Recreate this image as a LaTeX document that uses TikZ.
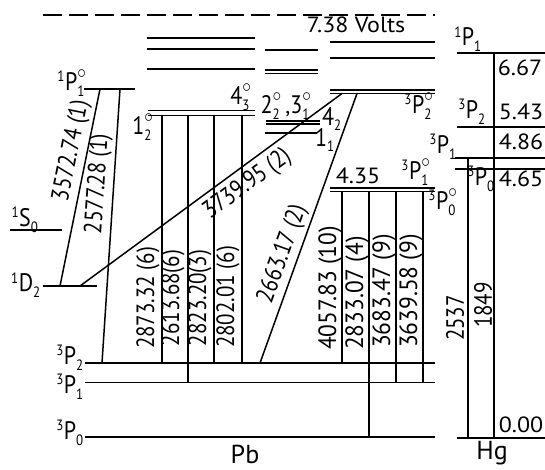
\documentclass[tikz,border=0pt]{standalone}
\usepackage{fontspec}
\setmainfont{PT Sans}
\usepackage{graphicx}
\newcommand\talltext[1]{\scalebox{1.05}[1.25]{#1}}
\newcommand\longtext[1]{\scalebox{1.17}[1.25]{#1}}
\newcommand\widetext[1]{\scalebox{1.2}[1.1]{#1}}
\newcommand\sx[1]{\mbox{\fontsize{13}{13}\selectfont #1}}
\newcommand\trm[4]{\scalebox{1}[1.15]{$^{\sx{#1}}\mbox{#2}^{\sx{#4}}_{\sx{#3}}$}}
\newcommand\nrm[3]{\scalebox{1}[1.15]{$\mbox{#1}^{\sx{#3}}_{\sx{#2}}$}}
\newcommand\dg{\fontsize{17}{17}\selectfont$\circ$}
\begin{document}
\begin{tikzpicture}[x=1pt,y=-1pt,
  lev/.style={line width=1.7pt},
  trn/.style={line width=1.5pt},
  lab/.style={inner sep=0pt, font=\fontsize{20}{22}\selectfont},
  lvl/.style={inner sep=0pt, font=\fontsize{22}{24}\selectfont},
  wl/.style={lab, rotate=90},
  sl/.style={lab, sloped, inner sep=3pt},
  big/.style={inner sep=0pt, font=\fontsize{26}{28}\selectfont}]
\useasboundingbox (0,0) rectangle (545,470);
\fill[white] (0,0) rectangle (545,470);

% series limit
\coordinate (lim-l) at (43,15); \coordinate (lim-r) at (435,15);
\draw[lev, dash pattern=on 19pt off 7pt] (lim-l) -- (lim-r);
\node[lab] (volts) at (356,25) {\widetext{7.38 Volts}};

% upper Pb levels
\foreach \y in {38,49,69} \draw[lev] (147,\y) -- (255,\y);
\foreach \y in {50,70,73.5} \draw[lev] (265,\y) -- (318,\y);
\foreach \y in {42,58} \draw[lev] (330,\y) -- (435,\y);
\foreach \y in {90,93.5} \draw[lev] (330,\y) -- (435,\y);
\draw[lev] (84,89) -- (135,89);
\foreach \y in {110.5,115.5} \draw[lev] (148,\y) -- (255,\y);
\foreach \y in {121,124} \draw[lev] (266,\y) -- (320,\y);
\draw[lev] (265,133) -- (317,133);
\foreach \y in {188,191.5} \draw[lev] (330,\y) -- (435,\y);
\draw[lev] (10,230) -- (62,230);
\draw[lev] (43,286) -- (97,286);
% Pb ground levels
\draw[lev] (85,363) -- (435,363);
\draw[lev] (85,382.5) -- (435,382.5);
\draw[lev] (85,437) -- (435,437);

% level labels Pb
\node[lvl] (l1p1o) at (72,83) {\trm{1}{P}{1}{\dg}};
\node[lvl] (l1s0) at (25,220) {\trm{1}{S}{0}{}};
\node[lvl] (l1d2) at (26,285) {\trm{1}{D}{2}{}};
\node[lvl] (l3p2) at (70,358) {\trm{3}{P}{2}{}};
\node[lvl] (l3p1) at (70,387) {\trm{3}{P}{1}{}};
\node[lvl] (l3p0) at (70,433) {\trm{3}{P}{0}{}};
\node[lvl] (l12) at (143,127) {\nrm{1}{2}{\dg}};
\node[lvl] (l43) at (241,97) {\nrm{4}{3}{\dg}};
\node[lvl] (l2231) at (286,106) {\nrm{2}{2}{\dg}\,,\nrm{3}{1}{\dg}};
\node[lvl] (l42) at (332,119) {\nrm{4}{2}{}};
\node[lvl] (l11) at (325,140) {\nrm{1}{1}{}};
\node[lvl] (l3p2o) at (419,106) {\trm{3}{P}{2}{\dg}};
\node[lab] (l435) at (358,176) {\widetext{4.35}};
\node[lvl] (l3p1o) at (416,172) {\trm{3}{P}{1}{\dg}};
\node[lvl] (l3p0o) at (443,202) {\trm{3}{P}{0}{\dg}};

% slanted transitions
\coordinate (p1a) at (100,89); \coordinate (d2a) at (60,286);
\draw[trn] (d2a) -- node[sl, above, pos=0.67] (t1) {\talltext{3572.74 (1)}} (p1a);
\coordinate (p1b) at (120,89); \coordinate (g2a) at (102,363);
\draw[trn] (g2a) -- node[sl, above, pos=0.65] (t2) {\talltext{2577.28 (1)}} (p1b);
\coordinate (d2b) at (80,286); \coordinate (p2oa) at (342,93.5);
\draw[trn] (d2b) -- node[sl, below, pos=0.6, inner sep=5pt] (t3) {\talltext{3739.95 (2)}} (p2oa);
\coordinate (p2ob) at (357,93.5); \coordinate (g2b) at (260,363);
\draw[trn] (g2b) -- node[sl, above, pos=0.385] (t4) {\talltext{2663.17 (2)}} (p2ob);

% vertical transitions from 1_2 / 4_3
\foreach \x/\yb in {162/363,188/382.5,214/363,242/363} {
  \coordinate (u\x) at (\x,115.5); \coordinate (d\x) at (\x,\yb);
  \draw[trn] (u\x) -- (d\x);
}
\node[wl] (w1) at (148,298) {\talltext{2873.32 (6)}};
\node[wl] (w2) at (173,298) {\talltext{2613.68(6)}};
\node[wl] (w3) at (200,298) {\talltext{2823.20(3)}};
\node[wl] (w4) at (228,297) {\talltext{2802.01 (6)}};

% vertical transitions from 4.35
\foreach \x/\yb in {342/363,369/437,396/382.5,423/382.5} {
  \coordinate (v\x) at (\x,191.5); \coordinate (e\x) at (\x,\yb);
  \draw[trn] (v\x) -- (e\x);
}
\node[wl] (w5) at (330,288) {\longtext{4057.83 (10)}};
\node[wl] (w6) at (357,293) {\longtext{2833.07 (4)}};
\node[wl] (w7) at (384,291) {\longtext{3683.47 (9)}};
\node[wl] (w8) at (411,291) {\longtext{3639.58 (9)}};

\node[big] (pb) at (245,454) {Pb};

% Hg
\draw[lev] (457,53) -- (545,53);
\draw[lev] (457,127) -- (545,127);
\draw[lev] (455,158) -- (545,158);
\draw[lev] (455,169) -- (545,169);
\draw[lev] (457,438) -- (545,438);
\coordinate (hga) at (494,53); \coordinate (hgb) at (494,438);
\draw[trn] (hga) -- (hgb);
\coordinate (hgc) at (468,158); \coordinate (hgd) at (468,438);
\draw[trn] (hgc) -- (hgd);
\node[lvl] (h1p1) at (468,39) {\trm{1}{P}{1}{}};
\node[lvl] (h3p2) at (472,112) {\trm{3}{P}{2}{}};
\node[lvl] (h3p1) at (443,147) {\trm{3}{P}{1}{}};
\node[lvl] (h3p0) at (481,179) {\trm{3}{P}{0}{}};
\node[lab] (v667) at (520,68) {\widetext{6.67}};
\node[lab] (v543) at (521,112) {\widetext{5.43}};
\node[lab] (v486) at (521,142) {\widetext{4.86}};
\node[lab] (v465) at (521,179) {\widetext{4.65}};
\node[lab] (v000) at (521,425) {\widetext{0.00}};
\node[wl] (w2537) at (455,318) {\talltext{2537}};
\node[wl] (w1849) at (483,305) {\talltext{1849}};
\node[big] (hg) at (492,453) {Hg};
\end{tikzpicture}
\end{document}
